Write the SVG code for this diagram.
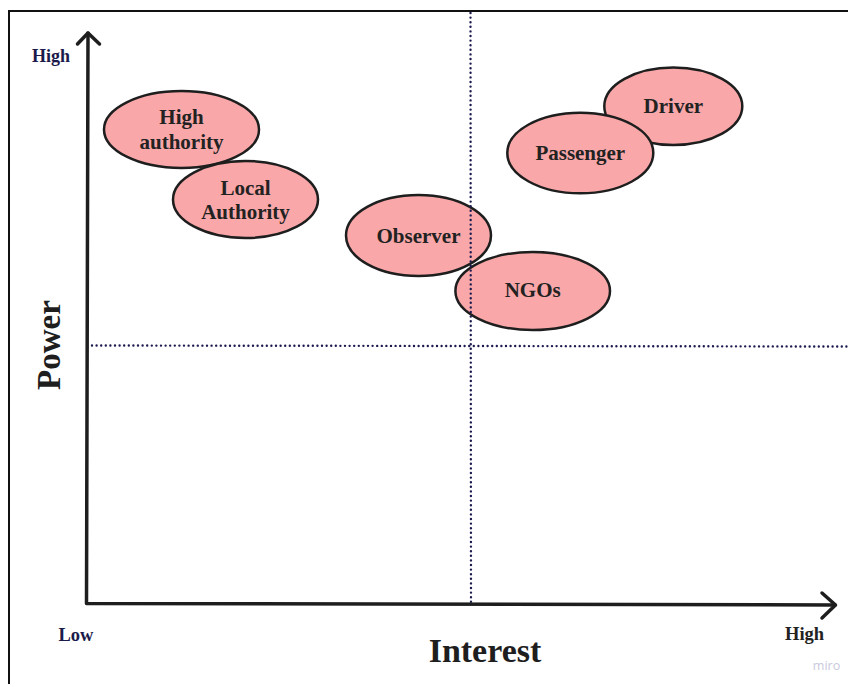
<svg xmlns="http://www.w3.org/2000/svg" width="848" height="684" viewBox="0 0 848 684">
<style>
.node ellipse{fill:#f9a7a8;stroke:#1e1e1e;stroke-width:2.5}
.node text{font-family:"Liberation Serif","Times New Roman",serif;font-weight:bold;font-size:21px;fill:#222;text-anchor:middle}
.axis{stroke:#1e1e1e;stroke-width:3.5;fill:none;stroke-linecap:round;stroke-linejoin:round}
.dot{stroke:#1b1b50;stroke-width:2.4;stroke-dasharray:0 4.6;stroke-linecap:round;fill:none}
.lbl{font-family:"Liberation Serif","Times New Roman",serif;font-weight:bold}
</style>
<rect width="848" height="684" fill="#fff"/>
<g id="frame" stroke="#111" stroke-width="2" fill="none">
<line x1="8" y1="11" x2="848" y2="11"/>
<line x1="9" y1="10" x2="9" y2="684"/>
</g>
<g id="n-high-authority" class="node">
<ellipse cx="181.5" cy="129.5" rx="77.5" ry="38.5"/>
<text x="181.5" y="123.5">High</text>
<text x="181.5" y="148.5">authority</text>
</g>
<g id="n-local-authority" class="node">
<ellipse cx="245.5" cy="199.5" rx="72.5" ry="38.5"/>
<text x="245.5" y="195">Local</text>
<text x="245.5" y="218.5">Authority</text>
</g>
<g id="n-observer" class="node">
<ellipse cx="418.5" cy="235.5" rx="72.5" ry="40.5"/>
<text x="418.5" y="243">Observer</text>
</g>
<g id="n-ngos" class="node">
<ellipse cx="532.7" cy="291" rx="77.3" ry="39"/>
<text x="532.7" y="297">NGOs</text>
</g>
<g id="n-driver" class="node">
<ellipse cx="673.3" cy="106.3" rx="69" ry="38.7"/>
<text x="673.3" y="112.5">Driver</text>
</g>
<g id="n-passenger" class="node">
<ellipse cx="580.3" cy="153" rx="73" ry="40.3"/>
<text x="580.3" y="160">Passenger</text>
</g>
<g id="connectors">
<line class="dot" x1="470.5" y1="13" x2="471" y2="602"/>
<line class="dot" x1="92" y1="345.5" x2="848" y2="346.5"/>
<path class="axis" d="M88,33 L86.5,603.5 L835,605"/>
<path class="axis" d="M77.5,44 L88,33 L99.5,44"/>
<path class="axis" d="M822,593 L835.5,605 L822,618"/>
</g>
<g id="labels">
<text class="lbl" x="32" y="62" font-size="18" fill="#1b1b4b">High</text>
<text class="lbl" x="58.5" y="640.5" font-size="18.5" fill="#1b1b4b">Low</text>
<text class="lbl" x="785" y="640" font-size="18.5" fill="#222">High</text>
<text class="lbl" x="485" y="661.5" font-size="34" fill="#1e1e1e" text-anchor="middle">Interest</text>
<text class="lbl" transform="translate(59.5,345) rotate(-90)" font-size="33" fill="#1e1e1e" text-anchor="middle">Power</text>
<text x="826.5" y="670" font-family="'Open Sans','Noto Sans',sans-serif" font-size="12.5" fill="#c9c9dc" text-anchor="middle">miro</text>
</g>
</svg>
